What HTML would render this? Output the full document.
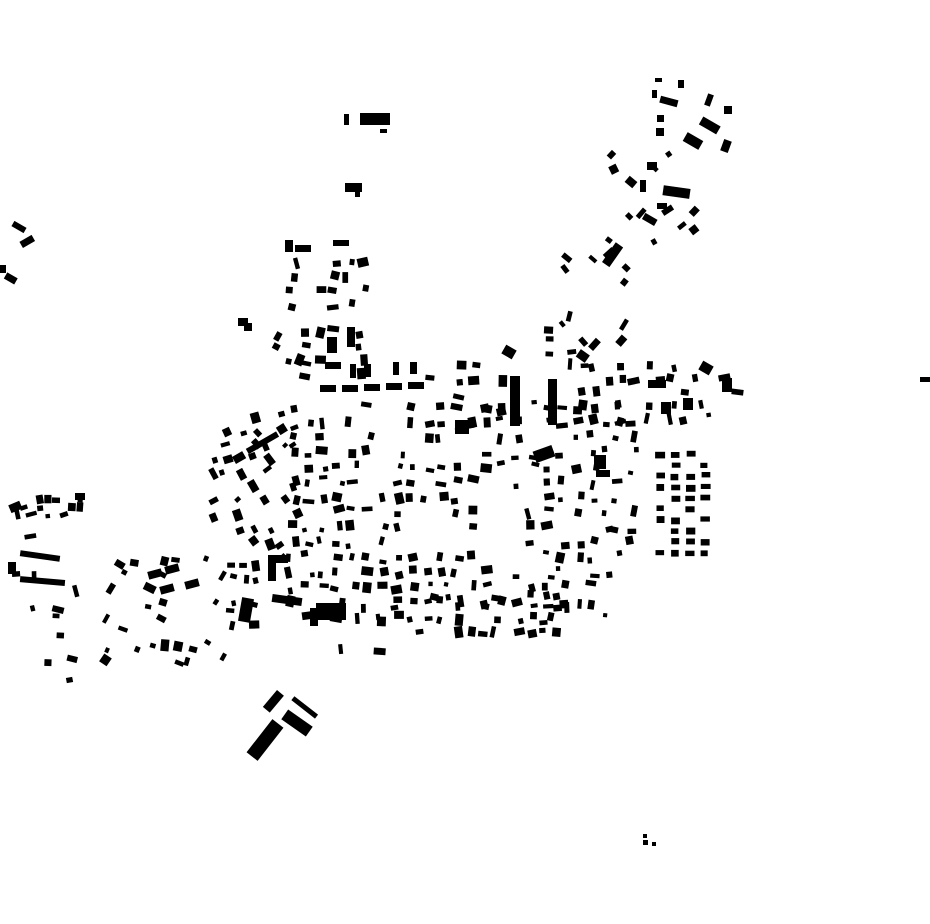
<!DOCTYPE html>
<html><head><meta charset="utf-8"><style>html,body{margin:0;padding:0;background:#fff;width:930px;height:924px;overflow:hidden}svg{display:block}</style></head>
<body>
<svg id="s" width="930" height="924" viewBox="0 0 930 924" xmlns="http://www.w3.org/2000/svg">
<rect width="930" height="924" fill="#fff"/>
<g fill="#000">
<rect x="360" y="113" width="30" height="12"/><rect x="344" y="114" width="5" height="11"/><rect x="380" y="129" width="7" height="4"/>
<rect x="345" y="183" width="17" height="9"/><rect x="355" y="190" width="5" height="7"/>
<rect x="663" y="187" width="27" height="10" transform="rotate(8 676 192)"/>
<rect x="684" y="136" width="18" height="10" transform="rotate(30 693 141)"/>
<rect x="700" y="121" width="20" height="9" transform="rotate(30 710 125)"/>
<rect x="722" y="140" width="8" height="12" transform="rotate(20 726 146)"/>
<rect x="706" y="94" width="6" height="12" transform="rotate(20 709 100)"/>
<rect x="724" y="106" width="8" height="8"/>
<rect x="660" y="98" width="18" height="7" transform="rotate(15 669 101)"/>
<rect x="655" y="78" width="7" height="4"/><rect x="652" y="90" width="5" height="8"/><rect x="678" y="80" width="6" height="8"/>
<rect x="657" y="115" width="7" height="7"/><rect x="656" y="128" width="8" height="8"/>
<rect x="643" y="216" width="14" height="7" transform="rotate(30 650 219)"/>
<rect x="626" y="178" width="10" height="8" transform="rotate(40 631 182)"/><rect x="647" y="162" width="10" height="8"/>
<rect x="640" y="180" width="6" height="12"/><rect x="657" y="203" width="10" height="6"/>
<rect x="601" y="250" width="24" height="9" transform="rotate(-55 613 255)"/>
<rect x="12" y="224" width="14" height="6" transform="rotate(30 19 227)"/><rect x="20" y="238" width="14" height="7" transform="rotate(-30 27 241)"/>
<rect x="0" y="265" width="6" height="8"/><rect x="5" y="275" width="12" height="7" transform="rotate(30 11 278)"/>
<rect x="244" y="733" width="42" height="14" transform="rotate(-52 265 740)"/>
<rect x="282" y="717" width="30" height="12" transform="rotate(35 297 723)"/>
<rect x="290" y="705" width="30" height="5" transform="rotate(38 305 707)"/>
<rect x="262" y="697" width="22" height="9" transform="rotate(-50 273 701)"/>
<rect x="268" y="555" width="20" height="8"/><rect x="268" y="555" width="8" height="26"/>
<rect x="272" y="596" width="30" height="8" transform="rotate(8 287 600)"/>
<rect x="316" y="603" width="30" height="17"/><rect x="310" y="608" width="8" height="18"/>
<rect x="510" y="376" width="10" height="50"/><rect x="548" y="379" width="9" height="46"/>
<rect x="455" y="420" width="14" height="14"/>
<rect x="320" y="385" width="16" height="7"/><rect x="342" y="385" width="16" height="7"/><rect x="364" y="384" width="16" height="7"/><rect x="386" y="383" width="16" height="7"/><rect x="408" y="382" width="16" height="7"/>
<rect x="325" y="362" width="16" height="7"/><rect x="350" y="364" width="6" height="14"/><rect x="364" y="364" width="7" height="13"/><rect x="393" y="362" width="6" height="13"/><rect x="410" y="362" width="7" height="12"/>
<rect x="920" y="377" width="10" height="5"/>
<rect x="643" y="834" width="4" height="4"/><rect x="643" y="840" width="5" height="5"/><rect x="652" y="842" width="4" height="4"/>
<rect x="503" y="347" width="12" height="10" transform="rotate(30 509 352)"/>
<rect x="285" y="240" width="8" height="12"/><rect x="295" y="245" width="16" height="7"/><rect x="333" y="240" width="16" height="6"/>
<rect x="347" y="327" width="8" height="20"/><rect x="327" y="337" width="10" height="16"/>
<rect x="238" y="318" width="10" height="8"/><rect x="244" y="323" width="8" height="8"/>
<rect x="648" y="380" width="18" height="8"/><rect x="661" y="402" width="10" height="12"/><rect x="683" y="398" width="10" height="12"/>
<rect x="700" y="363" width="12" height="10" transform="rotate(30 706 368)"/><rect x="722" y="378" width="10" height="14"/>
<rect x="240" y="598" width="12" height="24" transform="rotate(10 246 610)"/>
<rect x="148" y="570" width="14" height="8" transform="rotate(-15 155 574)"/><rect x="165" y="565" width="14" height="8" transform="rotate(-15 172 569)"/>
<rect x="185" y="580" width="14" height="8" transform="rotate(-15 192 584)"/><rect x="160" y="585" width="14" height="8" transform="rotate(-15 167 589)"/>
<rect x="20" y="553" width="40" height="6" transform="rotate(8 40 556)"/><rect x="20" y="578" width="45" height="6" transform="rotate(5 42 581)"/>
<rect x="8" y="562" width="8" height="12"/><rect x="75" y="493" width="10" height="7"/>
<rect x="245" y="440" width="35" height="6" transform="rotate(-30 262 443)"/>
<rect x="594" y="455" width="12" height="14"/><rect x="596" y="470" width="14" height="7"/>
<rect x="534" y="448" width="20" height="12" transform="rotate(-20 544 454)"/>
</g>
<g id="gen" fill="#000"></g>
</svg>
<script>
(function(){
var seed=12345;function r(){seed=(seed*1103515245+12345)&2147483647;return seed/2147483647;}
var g=document.getElementById('gen');var ns='http://www.w3.org/2000/svg';
function add(x,y,w,h,a){var e=document.createElementNS(ns,'rect');e.setAttribute('x',x.toFixed(1));e.setAttribute('y',y.toFixed(1));e.setAttribute('width',w.toFixed(1));e.setAttribute('height',h.toFixed(1));if(a)e.setAttribute('transform','rotate('+a.toFixed(0)+' '+(x+w/2).toFixed(1)+' '+(y+h/2).toFixed(1)+')');g.appendChild(e);}
var R=[
[285,400,615,625,15,0.7,0],
[610,400,640,560,15,0.35,0],
[205,410,290,560,14,0.45,-30],
[225,560,260,665,12,0.4,0],
[100,555,215,665,14,0.4,20],
[10,515,80,670,14,0.28,0],
[285,255,360,375,14,0.38,0],
[270,330,300,370,12,0.35,30],
[425,360,505,420,14,0.4,0],
[560,250,620,360,14,0.3,-50],
[530,310,580,360,12,0.3,0],
[575,360,740,420,13,0.45,0],
[605,150,690,240,14,0.22,-40],
[430,590,570,630,12,0.5,0],
[330,600,420,650,14,0.25,0],
[12,495,80,515,8,0.5,-10]
];
R.forEach(function(q){for(var y=q[1];y<q[3];y+=q[4])for(var x=q[0];x<q[2];x+=q[4]){
 if(x>465&&x<525&&y>480&&y<560)continue;
 if(x>390&&x<440&&y>500&&y<545&&r()<0.6)continue;
 if(r()>q[5])continue;
 var w=4+r()*8,h=4+r()*5;if(r()<0.5){var t=w;w=h;h=t;}
 add(x+r()*(q[4]-w),y+r()*(q[4]-h),w,h,q[6]+(r()-0.5)*30);}});
for(var c=0;c<4;c++)for(var y=450;y<556;y+=11){if(r()<0.7)add(655+c*15+r()*2,y+r()*2,7+r()*3,5+r()*2,0);}
})();
</script>
</body></html>
